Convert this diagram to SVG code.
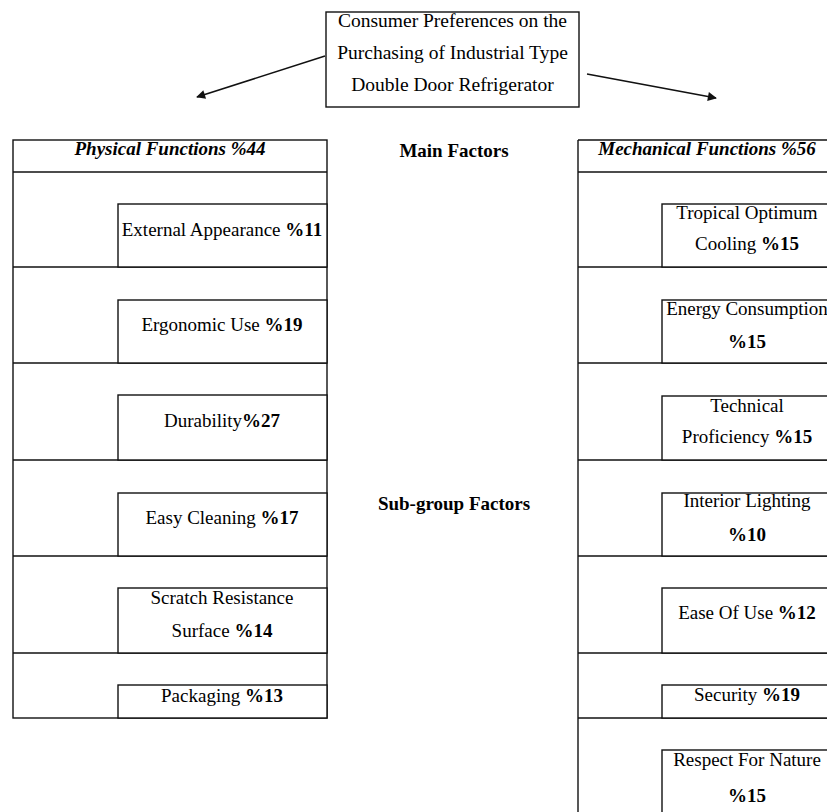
<svg xmlns="http://www.w3.org/2000/svg" width="827" height="812" viewBox="0 0 827 812">
<style>
text{font-family:"Liberation Serif","Times New Roman",serif;font-size:19px;fill:#000;text-anchor:middle}
.t{font-size:19.5px}
.b{font-weight:bold}
.h{font-weight:bold;font-style:italic}
.box{fill:#fff;stroke:#111;stroke-width:1.4}
.ln{fill:none;stroke:#111;stroke-width:1.4}
.conn{fill:none;stroke:#111;stroke-width:1.5}
</style>
<defs>
<marker id="ah" viewBox="0 0 10 10" refX="9" refY="5" markerWidth="10" markerHeight="9" markerUnits="userSpaceOnUse" orient="auto">
<path d="M0,0 L10,5 L0,10 z" fill="#111"/>
</marker>
</defs>
<rect width="827" height="812" fill="#fff"/>

<g id="connectors">
<line class="conn" x1="325" y1="56" x2="197" y2="97" marker-end="url(#ah)"/>
<line class="conn" x1="587" y1="74" x2="716" y2="98" marker-end="url(#ah)"/>
</g>

<g id="root">
<rect class="box" x="326" y="12" width="253" height="95"/>
<text class="t" x="452.5" y="27">Consumer Preferences  on the</text>
<text class="t" x="452.5" y="59">Purchasing of Industrial Type</text>
<text class="t" x="452.5" y="91">Double Door Refrigerator</text>
</g>

<g id="labels">
<text class="b" x="454" y="157">Main Factors</text>
<text class="b" x="454" y="510">Sub-group Factors</text>
</g>

<g id="left-frame">
<rect class="box" x="13" y="140" width="314" height="578"/>
<line class="ln" x1="13" y1="172" x2="327" y2="172"/>
<line class="ln" x1="13" y1="267" x2="327" y2="267"/>
<line class="ln" x1="13" y1="363" x2="327" y2="363"/>
<line class="ln" x1="13" y1="460" x2="327" y2="460"/>
<line class="ln" x1="13" y1="556" x2="327" y2="556"/>
<line class="ln" x1="13" y1="653" x2="327" y2="653"/>
</g>

<g id="physical">
<text class="h" x="170" y="155">Physical Functions %44</text>
</g>
<g id="external-appearance">
<rect class="box" x="118" y="204" width="209" height="63"/>
<text x="222" y="236">External Appearance <tspan class="b">%11</tspan></text>
</g>
<g id="ergonomic-use">
<rect class="box" x="118" y="300" width="209" height="63"/>
<text x="222" y="331">Ergonomic Use <tspan class="b">%19</tspan></text>
</g>
<g id="durability">
<rect class="box" x="118" y="395" width="209" height="65"/>
<text x="222" y="427">Durability<tspan class="b">%27</tspan></text>
</g>
<g id="easy-cleaning">
<rect class="box" x="118" y="493" width="209" height="63"/>
<text x="222" y="524">Easy Cleaning <tspan class="b">%17</tspan></text>
</g>
<g id="scratch-resistance">
<rect class="box" x="118" y="588" width="209" height="65"/>
<text x="222" y="604">Scratch Resistance</text>
<text x="222" y="637">Surface <tspan class="b">%14</tspan></text>
</g>
<g id="packaging">
<rect class="box" x="118" y="685" width="209" height="33"/>
<text x="222" y="702">Packaging <tspan class="b">%13</tspan></text>
</g>

<g id="right-frame">
<line class="ln" x1="578" y1="140" x2="578" y2="812"/>
<line class="ln" x1="578" y1="140" x2="827" y2="140"/>
<line class="ln" x1="578" y1="172" x2="827" y2="172"/>
<line class="ln" x1="578" y1="267" x2="827" y2="267"/>
<line class="ln" x1="578" y1="363" x2="827" y2="363"/>
<line class="ln" x1="578" y1="460" x2="827" y2="460"/>
<line class="ln" x1="578" y1="556" x2="827" y2="556"/>
<line class="ln" x1="578" y1="653" x2="827" y2="653"/>
<line class="ln" x1="578" y1="718" x2="827" y2="718"/>
</g>

<g id="mechanical">
<text class="h" x="707" y="155">Mechanical Functions %56</text>
</g>
<g id="tropical-cooling">
<rect class="box" x="662" y="204" width="172" height="63"/>
<text x="747" y="219">Tropical Optimum</text>
<text x="747" y="250">Cooling <tspan class="b">%15</tspan></text>
</g>
<g id="energy-consumption">
<rect class="box" x="662" y="300" width="172" height="63"/>
<text x="747" y="315">Energy Consumption</text>
<text class="b" x="747" y="348">%15</text>
</g>
<g id="technical-proficiency">
<rect class="box" x="662" y="396" width="172" height="64"/>
<text x="747" y="412">Technical</text>
<text x="747" y="443">Proficiency <tspan class="b">%15</tspan></text>
</g>
<g id="interior-lighting">
<rect class="box" x="662" y="493" width="172" height="63"/>
<text x="747" y="507">Interior Lighting</text>
<text class="b" x="747" y="541">%10</text>
</g>
<g id="ease-of-use">
<rect class="box" x="662" y="588" width="172" height="65"/>
<text x="747" y="619">Ease Of Use <tspan class="b">%12</tspan></text>
</g>
<g id="security">
<rect class="box" x="662" y="685" width="172" height="33"/>
<text x="747" y="701">Security <tspan class="b">%19</tspan></text>
</g>
<g id="respect-for-nature">
<rect class="box" x="662" y="750" width="172" height="80"/>
<text x="747" y="766">Respect For Nature</text>
<text class="b" x="747" y="802">%15</text>
</g>
</svg>
